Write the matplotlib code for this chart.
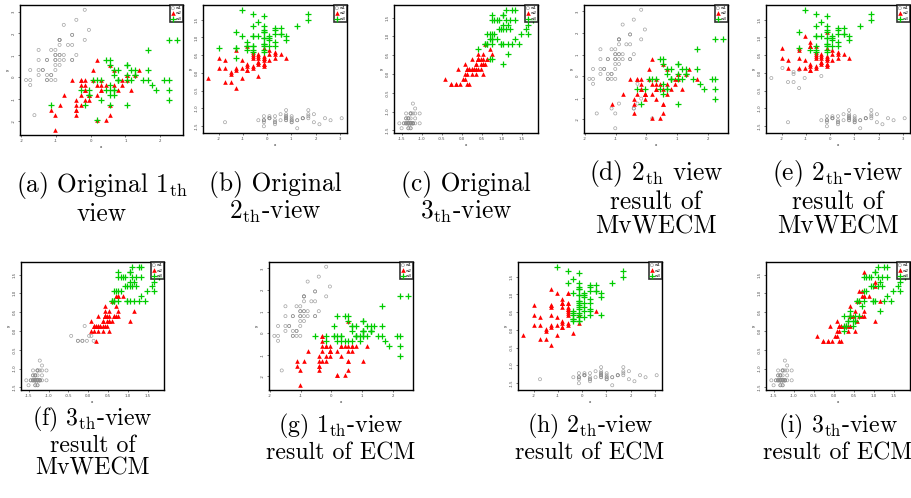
import numpy as np
import matplotlib.pyplot as plt

# iris measurements (samples 1..150)
sepal_length = [
    5.1, 4.9, 4.7, 4.6, 5.0, 5.4, 4.6, 5.0, 4.4, 4.9, 5.4, 4.8, 4.8, 4.3, 5.8, 5.7, 5.4, 5.1, 5.7, 5.1,
    5.4, 5.1, 4.6, 5.1, 4.8, 5.0, 5.0, 5.2, 5.2, 4.7, 4.8, 5.4, 5.2, 5.5, 4.9, 5.0, 5.5, 4.9, 4.4, 5.1,
    5.0, 4.5, 4.4, 5.0, 5.1, 4.8, 5.1, 4.6, 5.3, 5.0,
    7.0, 6.4, 6.9, 5.5, 6.5, 5.7, 6.3, 4.9, 6.6, 5.2, 5.0, 5.9, 6.0, 6.1, 5.6, 6.7, 5.6, 5.8, 6.2, 5.6,
    5.9, 6.1, 6.3, 6.1, 6.4, 6.6, 6.8, 6.7, 6.0, 5.7, 5.5, 5.5, 5.8, 6.0, 5.4, 6.0, 6.7, 6.3, 5.6, 5.5,
    5.5, 6.1, 5.8, 5.0, 5.6, 5.7, 5.7, 6.2, 5.1, 5.7,
    6.3, 5.8, 7.1, 6.3, 6.5, 7.6, 4.9, 7.3, 6.7, 7.2, 6.5, 6.4, 6.8, 5.7, 5.8, 6.4, 6.5, 7.7, 7.7, 6.0,
    6.9, 5.6, 7.7, 6.3, 6.7, 7.2, 6.2, 6.1, 6.4, 7.2, 7.4, 7.9, 6.4, 6.3, 6.1, 7.7, 6.3, 6.4, 6.0, 6.9,
    6.7, 6.9, 5.8, 6.8, 6.7, 6.7, 6.3, 6.5, 6.2, 5.9]
sepal_width = [
    3.5, 3.0, 3.2, 3.1, 3.6, 3.9, 3.4, 3.4, 2.9, 3.1, 3.7, 3.4, 3.0, 3.0, 4.0, 4.4, 3.9, 3.5, 3.8, 3.8,
    3.4, 3.7, 3.6, 3.3, 3.4, 3.0, 3.4, 3.5, 3.4, 3.2, 3.1, 3.4, 4.1, 4.2, 3.1, 3.2, 3.5, 3.6, 3.0, 3.4,
    3.5, 2.3, 3.2, 3.5, 3.8, 3.0, 3.8, 3.2, 3.7, 3.3,
    3.2, 3.2, 3.1, 2.3, 2.8, 2.8, 3.3, 2.4, 2.9, 2.7, 2.0, 3.0, 2.2, 2.9, 2.9, 3.1, 3.0, 2.7, 2.2, 2.5,
    3.2, 2.8, 2.5, 2.8, 2.9, 3.0, 2.8, 3.0, 2.9, 2.6, 2.4, 2.4, 2.7, 2.7, 3.0, 3.4, 3.1, 2.3, 3.0, 2.5,
    2.6, 3.0, 2.6, 2.3, 2.7, 3.0, 2.9, 2.9, 2.5, 2.8,
    3.3, 2.7, 3.0, 2.9, 3.0, 3.0, 2.5, 2.9, 2.5, 3.6, 3.2, 2.7, 3.0, 2.5, 2.8, 3.2, 3.0, 3.8, 2.6, 2.2,
    3.2, 2.8, 2.8, 2.7, 3.3, 3.2, 2.8, 3.0, 2.8, 3.0, 2.8, 3.8, 2.8, 2.8, 2.6, 3.0, 3.4, 3.1, 3.0, 3.1,
    3.1, 3.1, 2.7, 3.2, 3.3, 3.0, 2.5, 3.0, 3.4, 3.0]
petal_length = [
    1.4, 1.4, 1.3, 1.5, 1.4, 1.7, 1.4, 1.5, 1.4, 1.5, 1.5, 1.6, 1.4, 1.1, 1.2, 1.5, 1.3, 1.4, 1.7, 1.5,
    1.7, 1.5, 1.0, 1.7, 1.9, 1.6, 1.6, 1.5, 1.4, 1.6, 1.6, 1.5, 1.5, 1.4, 1.5, 1.2, 1.3, 1.4, 1.3, 1.5,
    1.3, 1.3, 1.3, 1.6, 1.9, 1.4, 1.6, 1.4, 1.5, 1.4,
    4.7, 4.5, 4.9, 4.0, 4.6, 4.5, 4.7, 3.3, 4.6, 3.9, 3.5, 4.2, 4.0, 4.7, 3.6, 4.4, 4.5, 4.1, 4.5, 3.9,
    4.8, 4.0, 4.9, 4.7, 4.3, 4.4, 4.8, 5.0, 4.5, 3.5, 3.8, 3.7, 3.9, 5.1, 4.5, 4.5, 4.7, 4.4, 4.1, 4.0,
    4.4, 4.6, 4.0, 3.3, 4.2, 4.2, 4.2, 4.3, 3.0, 4.1,
    6.0, 5.1, 5.9, 5.6, 5.8, 6.6, 4.5, 6.3, 5.8, 6.1, 5.1, 5.3, 5.5, 5.0, 5.1, 5.3, 5.5, 6.7, 6.9, 5.0,
    5.7, 4.9, 6.7, 4.9, 5.7, 6.0, 4.8, 4.9, 5.6, 5.8, 6.1, 6.4, 5.6, 5.1, 5.6, 6.1, 5.6, 5.5, 4.8, 5.4,
    5.6, 5.1, 5.1, 5.9, 5.7, 5.2, 5.0, 5.2, 5.4, 5.1]
petal_width = [
    0.2, 0.2, 0.2, 0.2, 0.2, 0.4, 0.3, 0.2, 0.2, 0.1, 0.2, 0.2, 0.1, 0.1, 0.2, 0.4, 0.4, 0.3, 0.3, 0.3,
    0.2, 0.4, 0.2, 0.5, 0.2, 0.2, 0.4, 0.2, 0.2, 0.2, 0.2, 0.4, 0.1, 0.2, 0.2, 0.2, 0.2, 0.1, 0.2, 0.2,
    0.3, 0.3, 0.2, 0.6, 0.4, 0.3, 0.2, 0.2, 0.2, 0.2,
    1.4, 1.5, 1.5, 1.3, 1.5, 1.3, 1.6, 1.0, 1.3, 1.4, 1.0, 1.5, 1.0, 1.4, 1.3, 1.4, 1.5, 1.0, 1.5, 1.1,
    1.8, 1.3, 1.5, 1.2, 1.3, 1.4, 1.4, 1.7, 1.5, 1.0, 1.1, 1.0, 1.2, 1.6, 1.5, 1.6, 1.5, 1.3, 1.3, 1.3,
    1.2, 1.4, 1.2, 1.0, 1.3, 1.2, 1.3, 1.3, 1.1, 1.3,
    2.5, 1.9, 2.1, 1.8, 2.2, 2.1, 1.7, 1.8, 1.8, 2.5, 2.0, 1.9, 2.1, 2.0, 2.4, 2.3, 1.8, 2.2, 2.3, 1.5,
    2.3, 2.0, 2.0, 1.8, 2.1, 1.8, 1.8, 1.8, 2.1, 1.6, 1.9, 2.0, 2.2, 1.5, 1.4, 2.3, 2.4, 1.8, 1.8, 2.1,
    2.4, 2.3, 1.9, 2.3, 2.5, 2.3, 1.9, 2.0, 2.3, 1.8]

# cluster members (sample numbers); everything not listed in w1/w3 is w2
setosa = list(range(1, 51))
true_w1 = setosa
true_w3 = list(range(101, 151))

# MvWECM partition (shown in d, e, f)
mv_w1 = setosa + [58, 61, 63, 65, 70, 80, 81, 82, 94, 99]
mv_w3 = [101, 103, 104, 105, 106, 108, 109, 110, 111, 113, 114, 115, 116, 117, 118, 119, 121,
         122, 123, 124, 125, 126, 127, 128, 129, 131, 132, 133, 136, 137, 138, 139, 140, 141,
         142, 144, 145, 146, 148, 149, 150]

# ECM partition (shown in g, h, i)
ecm_w1 = setosa
ecm_w3 = [51, 52, 53, 59, 62, 64, 66, 71, 75, 76, 78, 79, 85, 86, 87, 92, 96, 97, 98,
          101, 103, 104, 105, 106, 108, 110, 111, 113, 116, 117, 118, 119, 121, 123, 125, 126,
          128, 130, 131, 132, 136, 137, 138, 139, 140, 141, 142, 144, 145, 146, 148, 149, 150]

captions = [
    r"(a) Original $1_{\rm th}$" + "\nview",
    "(b) Original\n" + r"$2_{\rm th}$-view",
    "(c) Original\n" + r"$3_{\rm th}$-view",
    r"(d) $2_{\rm th}$ view" + "\nresult of\nMvWECM",
    r"(e) $2_{\rm th}$-view" + "\nresult of\nMvWECM",
    r"(f) $3_{\rm th}$-view" + "\nresult of\nMvWECM",
    r"(g) $1_{\rm th}$-view" + "\nresult of ECM",
    r"(h) $2_{\rm th}$-view" + "\nresult of ECM",
    r"(i) $3_{\rm th}$-view" + "\nresult of ECM",
]


def scale(v):
    v = np.array(v)
    return (v - v.mean()) / v.std(ddof=1)


def make_labels(w1, w3):
    lab = np.full(150, 2)
    lab[np.array(w1) - 1] = 1
    lab[np.array(w3) - 1] = 3
    return lab


SL, SW, PL, PW = scale(sepal_length), scale(sepal_width), scale(petal_length), scale(petal_width)
views = {1: (SL, SW), 2: (SW, PL), 3: (PL, PW)}

true_lab = make_labels(true_w1, true_w3)
mv_lab = make_labels(mv_w1, mv_w3)
ecm_lab = make_labels(ecm_w1, ecm_w3)

# panel: (view, labels, box in pixels: left, right, top, bottom)
W, H = 912, 498
panels = [
    (1, true_lab, (20, 183, 5, 135)),
    (2, true_lab, (203, 347, 5, 133)),
    (3, true_lab, (394, 538, 5, 133)),
    (1, mv_lab, (584, 728, 5, 133)),
    (2, mv_lab, (766, 910, 5, 133)),
    (3, mv_lab, (21, 164, 262, 390)),
    (1, ecm_lab, (269, 413, 262, 390)),
    (2, ecm_lab, (518, 662, 262, 390)),
    (3, ecm_lab, (766, 910, 262, 390)),
]
caption_mid = [198, 198, 198, 198, 198, 442, 438, 438, 438]
caption_size = [18.3] * 5 + [17.2] * 4

plt.rcParams["mathtext.fontset"] = "cm"
fig = plt.figure(figsize=(W / 100, H / 100), dpi=100)

for k, (view, lab, (l, r, t, b)) in enumerate(panels):
    ax = fig.add_axes([l / W, 1 - b / H, (r - l) / W, (b - t) / H])
    x, y = views[view]
    h1 = ax.scatter(x[lab == 1], y[lab == 1], s=5, facecolors="none", edgecolors="#8c8c8c",
                    linewidths=0.5, alpha=0.8, label="w1")
    h2 = ax.scatter(x[lab == 2], y[lab == 2], s=11, marker="^", color="#ff0000", linewidths=0,
                    label="w2")
    h3 = ax.scatter(x[lab == 3], y[lab == 3], s=18, marker="+", color="#00cc00", linewidths=0.9,
                    label="w3")
    ax.margins(0.04)
    if view == 1:
        ax.set_xticks([-2, -1, 0, 1, 2])
        ax.set_yticks([-2, -1, 0, 1, 2, 3])
        ax.set_xticklabels(["-2", "-1", "0", "1", "2"])
        ax.set_yticklabels(["-2", "-1", "0", "1", "2", "3"])
    elif view == 2:
        ax.set_xticks([-2, -1, 0, 1, 2, 3])
        ax.set_xticklabels(["-2", "-1", "0", "1", "2", "3"])
        ax.set_yticks([-1.5, -1.0, -0.5, 0.0, 0.5, 1.0, 1.5])
        ax.set_yticklabels(["-1.5", "-1.0", "-0.5", "0.0", "0.5", "1.0", "1.5"])
    else:
        ax.set_xticks([-1.5, -1.0, -0.5, 0.0, 0.5, 1.0, 1.5])
        ax.set_xticklabels(["-1.5", "-1.0", "-0.5", "0.0", "0.5", "1.0", "1.5"])
        ax.set_yticks([-1.5, -1.0, -0.5, 0.0, 0.5, 1.0, 1.5])
        ax.set_yticklabels(["-1.5", "-1.0", "-0.5", "0.0", "0.5", "1.0", "1.5"])
    ax.tick_params(direction="out", length=1.5, width=0.5, labelsize=2.8, pad=1.5, colors="#444444")
    for lbl in ax.get_yticklabels():
        lbl.set_rotation(90)
        lbl.set_va("center")
    for sp in ax.spines.values():
        sp.set_linewidth(1.0)
    ax.set_xlabel("x", fontsize=2.8, labelpad=1)
    ax.set_ylabel("y", fontsize=2.8, labelpad=1.5)
    leg = ax.legend(handles=[h1, h2, h3], loc="upper right", fontsize=3, frameon=True, fancybox=False,
                    borderpad=0.3, handlelength=0.8, handletextpad=0.3, labelspacing=0.3,
                    borderaxespad=0)
    leg.get_frame().set_edgecolor("black")
    leg.get_frame().set_linewidth(1.2)
    cx = (l + r) / 2 / W
    fig.text(cx, 1 - caption_mid[k] / H, captions[k], ha="center", va="center",
             fontsize=caption_size[k], family="cmr10", linespacing=1.05)

fig.savefig("out.png", dpi=100)
